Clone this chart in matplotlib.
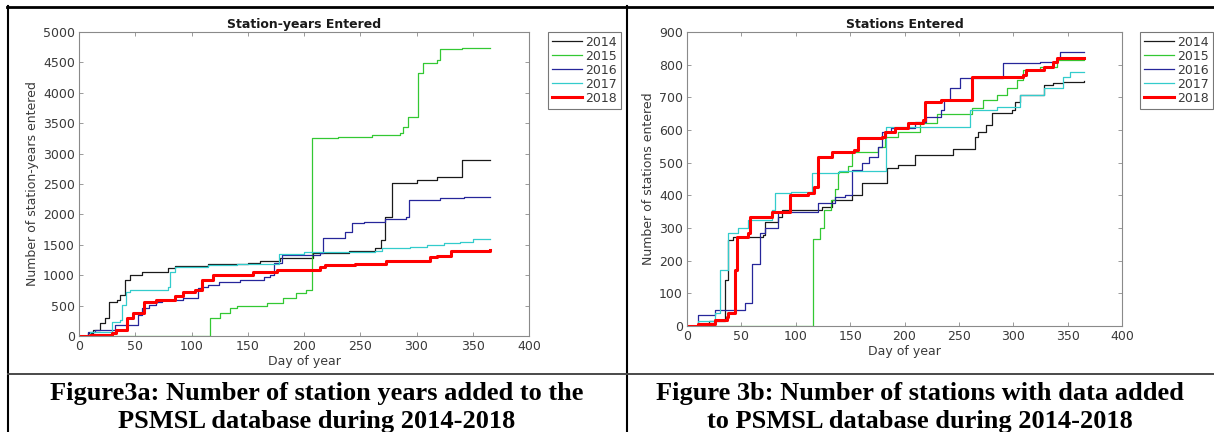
import matplotlib
matplotlib.use("Agg")
import matplotlib.pyplot as plt
from matplotlib.lines import Line2D

# ---------------- data ----------------
years = ["2014", "2015", "2016", "2017", "2018"]

# Cumulative station-years entered (day of year, running total)
sy_2014_day = [0, 8, 12, 19, 23, 27, 34, 36, 41, 45, 56, 79, 85, 115, 150, 161, 179, 208, 240, 263, 268, 272, 278, 300, 318, 340, 365]
sy_2014_val = [0, 50, 100, 210, 300, 565, 590, 675, 920, 1000, 1058, 1115, 1150, 1180, 1200, 1240, 1280, 1365, 1400, 1450, 1580, 1960, 2520, 2570, 2620, 2890, 2890]

sy_2015_day = [0, 116, 125, 134, 140, 167, 181, 193, 202, 207, 230, 260, 285, 288, 292, 301, 306, 318, 321, 340, 365]
sy_2015_val = [0, 296, 380, 460, 500, 548, 620, 700, 760, 3250, 3270, 3300, 3340, 3430, 3600, 4330, 4490, 4540, 4720, 4740, 4740]

sy_2016_day = [0, 8, 14, 32, 52, 56, 62, 68, 74, 92, 106, 109, 115, 124, 143, 164, 170, 173, 180, 214, 217, 236, 243, 253, 272, 291, 293, 321, 342, 365]
sy_2016_val = [0, 70, 100, 180, 345, 460, 510, 565, 590, 620, 790, 810, 840, 880, 920, 965, 1000, 1200, 1330, 1365, 1610, 1715, 1855, 1880, 1920, 1960, 2240, 2270, 2290, 2290]

sy_2017_day = [0, 10, 29, 36, 38, 42, 45, 79, 81, 85, 115, 140, 178, 200, 263, 269, 294, 309, 324, 339, 350, 365]
sy_2017_val = [0, 60, 235, 260, 510, 730, 760, 810, 1058, 1130, 1168, 1190, 1350, 1375, 1390, 1447, 1470, 1500, 1535, 1550, 1595, 1600]

sy_2018_day = [0, 10, 29, 33, 43, 48, 58, 68, 85, 92, 103, 109, 119, 155, 176, 214, 219, 245, 273, 312, 318, 331, 365]
sy_2018_val = [0, 20, 50, 100, 300, 380, 565, 590, 650, 730, 756, 920, 1000, 1058, 1085, 1140, 1170, 1190, 1240, 1300, 1316, 1390, 1410]

# Cumulative number of stations entered
st_2014_day = [0, 10, 20, 35, 38, 42, 70, 72, 84, 87, 124, 133, 152, 161, 184, 194, 210, 245, 265, 268, 275, 280, 299, 302, 306, 328, 337, 346, 365]
st_2014_val = [0, 5, 15, 141, 263, 273, 278, 319, 335, 355, 365, 386, 401, 437, 483, 493, 523, 542, 580, 595, 615, 651, 661, 687, 707, 738, 743, 748, 750]

st_2015_day = [0, 116, 122, 126, 132, 136, 139, 148, 152, 176, 182, 194, 214, 230, 262, 272, 285, 294, 303, 309, 325, 340, 365]
st_2015_val = [0, 265, 300, 355, 386, 420, 470, 490, 533, 549, 580, 595, 620, 650, 667, 692, 707, 728, 753, 784, 794, 814, 818]

st_2016_day = [0, 10, 26, 53, 60, 67, 72, 84, 120, 136, 145, 152, 161, 167, 176, 179, 188, 210, 220, 234, 236, 242, 251, 291, 325, 340, 343, 365]
st_2016_val = [0, 35, 50, 70, 190, 285, 300, 350, 376, 396, 401, 477, 498, 518, 549, 595, 606, 625, 640, 661, 692, 728, 759, 805, 809, 820, 840, 840]

st_2017_day = [0, 10, 26, 30, 38, 47, 56, 78, 81, 96, 115, 140, 183, 260, 285, 306, 328, 346, 352, 365]
st_2017_val = [0, 15, 40, 171, 284, 300, 325, 355, 407, 411, 468, 475, 610, 661, 670, 707, 728, 763, 778, 778]

st_2018_day = [0, 10, 26, 37, 38, 44, 46, 56, 58, 78, 95, 111, 117, 120, 133, 154, 157, 179, 182, 191, 203, 217, 219, 234, 262, 309, 312, 328, 337, 340, 365]
st_2018_val = [0, 5, 18, 28, 39, 171, 273, 284, 335, 350, 401, 407, 426, 518, 533, 539, 574, 580, 595, 605, 621, 631, 685, 692, 763, 768, 784, 794, 809, 820, 820]

# ---------------- styling ----------------
colors = ["#1a1a1a", "#33c833", "#26269a", "#33cccc", "#ff0000"]
widths = [0.9, 0.9, 0.9, 0.9, 2.2]
AX_GRAY = "#8a8a8a"
TXT_GRAY = "#3a3a3a"
W, H = 1214, 432

plt.rcParams["font.family"] = ["DejaVu Sans"]

fig = plt.figure(figsize=(W / 100, H / 100), dpi=100)
fig.patch.set_facecolor("white")


def px_axes(x0, y0, x1, y1):
    return fig.add_axes([x0 / W, 1 - y1 / H, (x1 - x0) / W, (y1 - y0) / H])


def style_axes(ax, ymax, ystep, title, ylabel):
    ax.set_xlim(0, 400)
    ax.set_ylim(0, ymax)
    ax.set_xticks(range(0, 401, 50))
    ax.set_yticks(range(0, ymax + 1, ystep))
    ax.tick_params(direction="in", length=3, width=0.6, colors=AX_GRAY,
                   labelcolor=TXT_GRAY, labelsize=9, top=True, right=True, pad=3)
    for s in ax.spines.values():
        s.set_color(AX_GRAY)
        s.set_linewidth(0.8)
    ax.set_title(title, fontsize=9, fontweight="bold", color="#1a1a1a", pad=3)
    ax.set_xlabel("Day of year", fontsize=9, color=TXT_GRAY, labelpad=1)
    ax.set_ylabel(ylabel, fontsize=9, color=TXT_GRAY, labelpad=3)


def draw_panel(ax, series):
    handles = []
    for (d, v), yr, c, lw in zip(series, years, colors, widths):
        h, = ax.step(d, v, where="post", color=c, lw=lw, label=yr)
        handles.append(h)
    return handles


# Left panel: station-years
ax1 = px_axes(79, 32, 529, 336)
h1 = draw_panel(ax1, [(sy_2014_day, sy_2014_val), (sy_2015_day, sy_2015_val),
                      (sy_2016_day, sy_2016_val), (sy_2017_day, sy_2017_val),
                      (sy_2018_day, sy_2018_val)])
style_axes(ax1, 5000, 500, "Station-years Entered", "Number of station-years entered")

# Right panel: stations
ax2 = px_axes(687, 32, 1122, 326)
h2 = draw_panel(ax2, [(st_2014_day, st_2014_val), (st_2015_day, st_2015_val),
                      (st_2016_day, st_2016_val), (st_2017_day, st_2017_val),
                      (st_2018_day, st_2018_val)])
style_axes(ax2, 900, 100, "Stations Entered", "Number of stations entered")


def add_legend(ax, handles, x0, y0):
    leg = ax.legend(handles, years, loc="upper left",
                    bbox_to_anchor=(x0 / W, 1 - y0 / H), bbox_transform=fig.transFigure,
                    fontsize=9, frameon=True, fancybox=False, handlelength=2.4,
                    handletextpad=0.3, labelspacing=0.08, borderpad=0.3,
                    borderaxespad=0)
    leg.get_frame().set_edgecolor("#555555")
    leg.get_frame().set_linewidth(0.8)
    for t in leg.get_texts():
        t.set_color(TXT_GRAY)


add_legend(ax1, h1, 548, 32)
add_legend(ax2, h2, 1140, 32)

# Table frame around the two figure cells
def hline(y, x0, x1, lw, c="black"):
    fig.add_artist(Line2D([x0 / W, x1 / W], [1 - y / H, 1 - y / H], lw=lw, color=c,
                          transform=fig.transFigure))


def vline(x, y0, y1, lw, c="black"):
    fig.add_artist(Line2D([x / W, x / W], [1 - y0 / H, 1 - y1 / H], lw=lw, color=c,
                          transform=fig.transFigure))


hline(7, 7, W, 2.0)
vline(8, 6, H, 1.5)
vline(627, 6, H, 1.5)
hline(374, 8, W, 1.4, "#4a4a4a")

# Captions
cap_font = dict(family=["Liberation Serif", "DejaVu Serif"], fontweight="bold",
                fontsize=19, color="black", ha="center", va="baseline")
fig.text(317 / W, 1 - 400 / H, "Figure3a: Number of station years added to the", **cap_font)
fig.text(317 / W, 1 - 428 / H, "PSMSL database during 2014-2018", **cap_font)
fig.text(920 / W, 1 - 400 / H, "Figure 3b: Number of stations with data added", **cap_font)
fig.text(920 / W, 1 - 428 / H, "to PSMSL database during 2014-2018", **cap_font)

fig.savefig("out.png", dpi=100, facecolor="white")
